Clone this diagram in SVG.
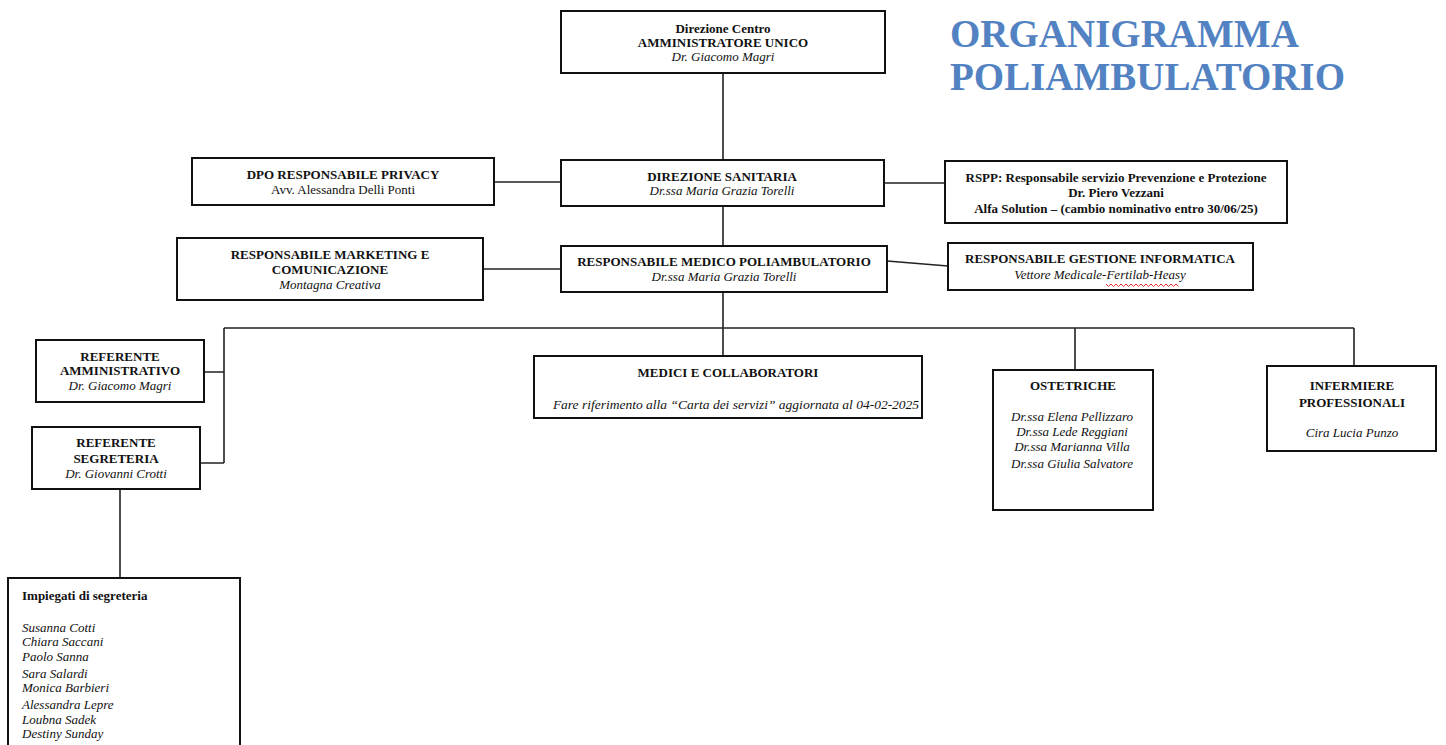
<svg xmlns="http://www.w3.org/2000/svg" width="1446" height="745" viewBox="0 0 1446 745">
<style>
.box{fill:#fff;stroke:#111;stroke-width:2}
.ln{fill:none;stroke:#222;stroke-width:1.6}
text{font-family:"Liberation Serif","Times New Roman",serif;font-size:13px;fill:#111}
.c{text-anchor:middle}
.b{font-weight:bold}
.i{font-style:italic}
.title{font-family:"Liberation Serif","Times New Roman",serif;font-weight:bold;font-size:39px;fill:#5282c2}
</style>
<rect width="1446" height="745" fill="#fff"/>
<g id="connectors">
<path class="ln" d="M723 73V160M723 206V246M494 182H561M884 183H945M483 269H561M887 261L948 266M723 292V356M224 328H1354M224 328V463M204 372H224M200 463H224M1075 328V370M1354 328V366M120 489V578"/>
</g>
<g id="title">
<text class="title" x="950" y="47">ORGANIGRAMMA</text>
<text class="title" x="950" y="90">POLIAMBULATORIO</text>
</g>
<g id="n-direzione-centro">
<rect class="box" x="561" y="11" width="324" height="62"/>
<text class="c b" x="723" y="33">Direzione Centro</text>
<text class="c b" x="723" y="47">AMMINISTRATORE UNICO</text>
<text class="c i" x="723" y="61">Dr. Giacomo Magri</text>
</g>
<g id="n-dpo">
<rect class="box" x="192" y="158" width="302" height="47"/>
<text class="c b" x="343" y="179">DPO RESPONSABILE PRIVACY</text>
<text class="c" x="343" y="194">Avv. Alessandra Delli Ponti</text>
</g>
<g id="n-direzione-sanitaria">
<rect class="box" x="561" y="160" width="323" height="46"/>
<text class="c b" x="722" y="181">DIREZIONE SANITARIA</text>
<text class="c i" x="722" y="195">Dr.ssa Maria Grazia Torelli</text>
</g>
<g id="n-rspp">
<rect class="box" x="945" y="161" width="342" height="62"/>
<text class="c b" x="1116" y="182">RSPP: Responsabile servizio Prevenzione e Protezione</text>
<text class="c b" x="1116" y="197">Dr. Piero Vezzani</text>
<text class="c b" x="1116" y="213">Alfa Solution – (cambio nominativo entro 30/06/25)</text>
</g>
<g id="n-marketing">
<rect class="box" x="177" y="238" width="306" height="62"/>
<text class="c b" x="330" y="259">RESPONSABILE MARKETING E</text>
<text class="c b" x="330" y="274">COMUNICAZIONE</text>
<text class="c i" x="330" y="289">Montagna Creativa</text>
</g>
<g id="n-resp-medico">
<rect class="box" x="561" y="246" width="326" height="46"/>
<text class="c b" x="724" y="266">RESPONSABILE MEDICO POLIAMBULATORIO</text>
<text class="c i" x="724" y="281">Dr.ssa Maria Grazia Torelli</text>
</g>
<g id="n-informatica">
<rect class="box" x="948" y="243" width="305" height="47"/>
<text class="c b" x="1100" y="263">RESPONSABILE GESTIONE INFORMATICA</text>
<text class="c i" x="1100" y="279">Vettore Medicale-Fertilab-Heasy</text>
<path d="M1106 284l2.5 2.5 2.5-2.5 2.5 2.5 2.5-2.5 2.5 2.5 2.5-2.5 2.5 2.5 2.5-2.5 2.5 2.5 2.5-2.5 2.5 2.5 2.5-2.5 2.5 2.5 2.5-2.5 2.5 2.5 2.5-2.5 2.5 2.5 2.5-2.5 2.5 2.5 2.5-2.5 2.5 2.5 2.5-2.5 2.5 2.5 2.5-2.5 2.5 2.5 2.5-2.5 2.5 2.5 2.5-2.5 2.5 2.5" fill="none" stroke="#e33" stroke-width="1"/>
</g>
<g id="n-ref-amministrativo">
<rect class="box" x="36" y="340" width="168" height="62"/>
<text class="c b" x="120" y="361">REFERENTE</text>
<text class="c b" x="120" y="375">AMMINISTRATIVO</text>
<text class="c i" x="120" y="390">Dr. Giacomo Magri</text>
</g>
<g id="n-ref-segreteria">
<rect class="box" x="32" y="427" width="168" height="62"/>
<text class="c b" x="116" y="447">REFERENTE</text>
<text class="c b" x="116" y="463">SEGRETERIA</text>
<text class="c i" x="116" y="478">Dr. Giovanni Crotti</text>
</g>
<g id="n-medici">
<rect class="box" x="534" y="356" width="388" height="62"/>
<text class="c b" x="728" y="377">MEDICI E COLLABORATORI</text>
<text class="c i" x="736" y="409" style="font-size:13.5px">Fare riferimento alla “Carta dei servizi” aggiornata al 04-02-2025</text>
</g>
<g id="n-ostetriche">
<rect class="box" x="993" y="370" width="160" height="140"/>
<text class="c b" x="1073" y="390">OSTETRICHE</text>
<text class="c i" x="1072" y="421">Dr.ssa Elena Pellizzaro</text>
<text class="c i" x="1072" y="436">Dr.ssa Lede Reggiani</text>
<text class="c i" x="1072" y="451">Dr.ssa Marianna Villa</text>
<text class="c i" x="1072" y="468">Dr.ssa Giulia Salvatore</text>
</g>
<g id="n-infermiere">
<rect class="box" x="1267" y="366" width="169" height="85"/>
<text class="c b" x="1352" y="390">INFERMIERE</text>
<text class="c b" x="1352" y="407">PROFESSIONALI</text>
<text class="c i" x="1352" y="437">Cira Lucia Punzo</text>
</g>
<g id="n-impiegati">
<rect class="box" x="8" y="578" width="232" height="180"/>
<text class="b" x="22" y="600">Impiegati di segreteria</text>
<text class="i" x="22" y="632">Susanna Cotti</text>
<text class="i" x="22" y="646">Chiara Saccani</text>
<text class="i" x="22" y="661">Paolo Sanna</text>
<text class="i" x="22" y="678">Sara Salardi</text>
<text class="i" x="22" y="692">Monica Barbieri</text>
<text class="i" x="22" y="709">Alessandra Lepre</text>
<text class="i" x="22" y="724">Loubna Sadek</text>
<text class="i" x="22" y="738">Destiny Sunday</text>
</g>
</svg>
